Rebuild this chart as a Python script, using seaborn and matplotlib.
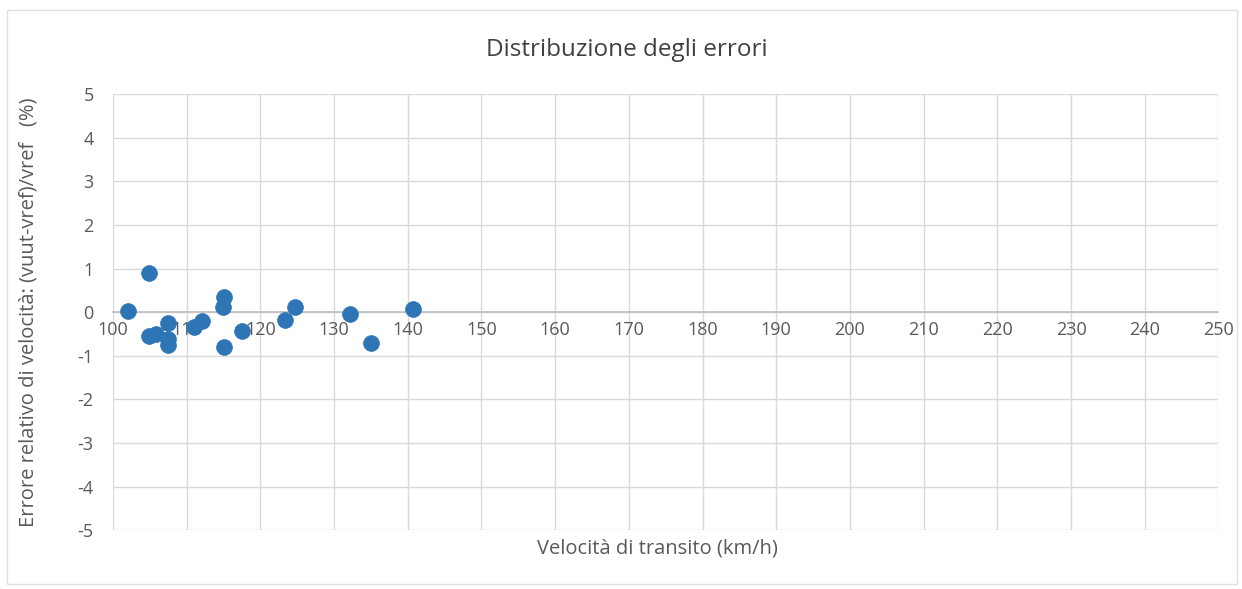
import pandas as pd
import matplotlib.pyplot as plt
import seaborn as sns
from matplotlib.patches import Rectangle

# ---------------- data ----------------
velocita = [102.1, 104.9, 104.9, 105.8, 107.5, 107.5, 107.5, 111.0, 112.1,
            115.0, 114.9, 115.1, 117.5, 123.3, 124.7, 132.1, 135.0, 140.7]
errore = [0.02, 0.91, -0.54, -0.51, -0.24, -0.62, -0.76, -0.35, -0.20,
          0.34, 0.12, -0.81, -0.43, -0.18, 0.11, -0.05, -0.70, 0.08]
x_ticks = list(range(100, 251, 10))
y_ticks = list(range(-5, 6))

df = pd.DataFrame({"v": velocita, "e": errore})

sns.set_style("white")
plt.rcParams["font.family"] = ["Open Sans", "DejaVu Sans"]
plt.rcParams["axes.unicode_minus"] = False
text_col = "#595959"

fig = plt.figure(figsize=(12.42, 5.89), dpi=100)
ax = fig.add_axes([0.091, 0.100, 0.890, 0.740])

sns.scatterplot(data=df, x="v", y="e", ax=ax, color="#2E75B6",
                s=130, edgecolor="#2E75B6", linewidth=0.5, zorder=3)

ax.set_xlim(100, 250)
ax.set_ylim(-5, 5)
ax.set_xticks(x_ticks)
ax.set_yticks(y_ticks)
ax.grid(True, color="#D9D9D9", linewidth=1)
ax.set_axisbelow(True)

for s in ["top", "right", "left"]:
    ax.spines[s].set_visible(False)
ax.spines["bottom"].set_position(("data", 0))
ax.spines["bottom"].set_color("#BFBFBF")
ax.spines["bottom"].set_linewidth(1.2)

ax.tick_params(axis="both", length=0, labelsize=13, labelcolor=text_col)
ax.tick_params(axis="x", pad=6)
ax.tick_params(axis="y", pad=14)

ax.set_xlabel("")
ax.set_ylabel("Errore relativo di velocità: (vuut-vref)/vref   (%)",
              fontsize=14.5, color=text_col)
ax.yaxis.set_label_coords(-0.067, 0.5)
fig.text(0.529, 0.068, "Velocità di transito (km/h)", ha="center",
         va="center", fontsize=14.5, color=text_col)
fig.text(0.505, 0.915, "Distribuzione degli errori", ha="center",
         va="center", fontsize=17.5, color="#404040")

# chart area border
fig.patches.append(Rectangle((0.006, 0.008), 0.99, 0.975,
                             transform=fig.transFigure, fill=False,
                             edgecolor="#E0E0E0", linewidth=1))

fig.savefig("out.png", dpi=100)
